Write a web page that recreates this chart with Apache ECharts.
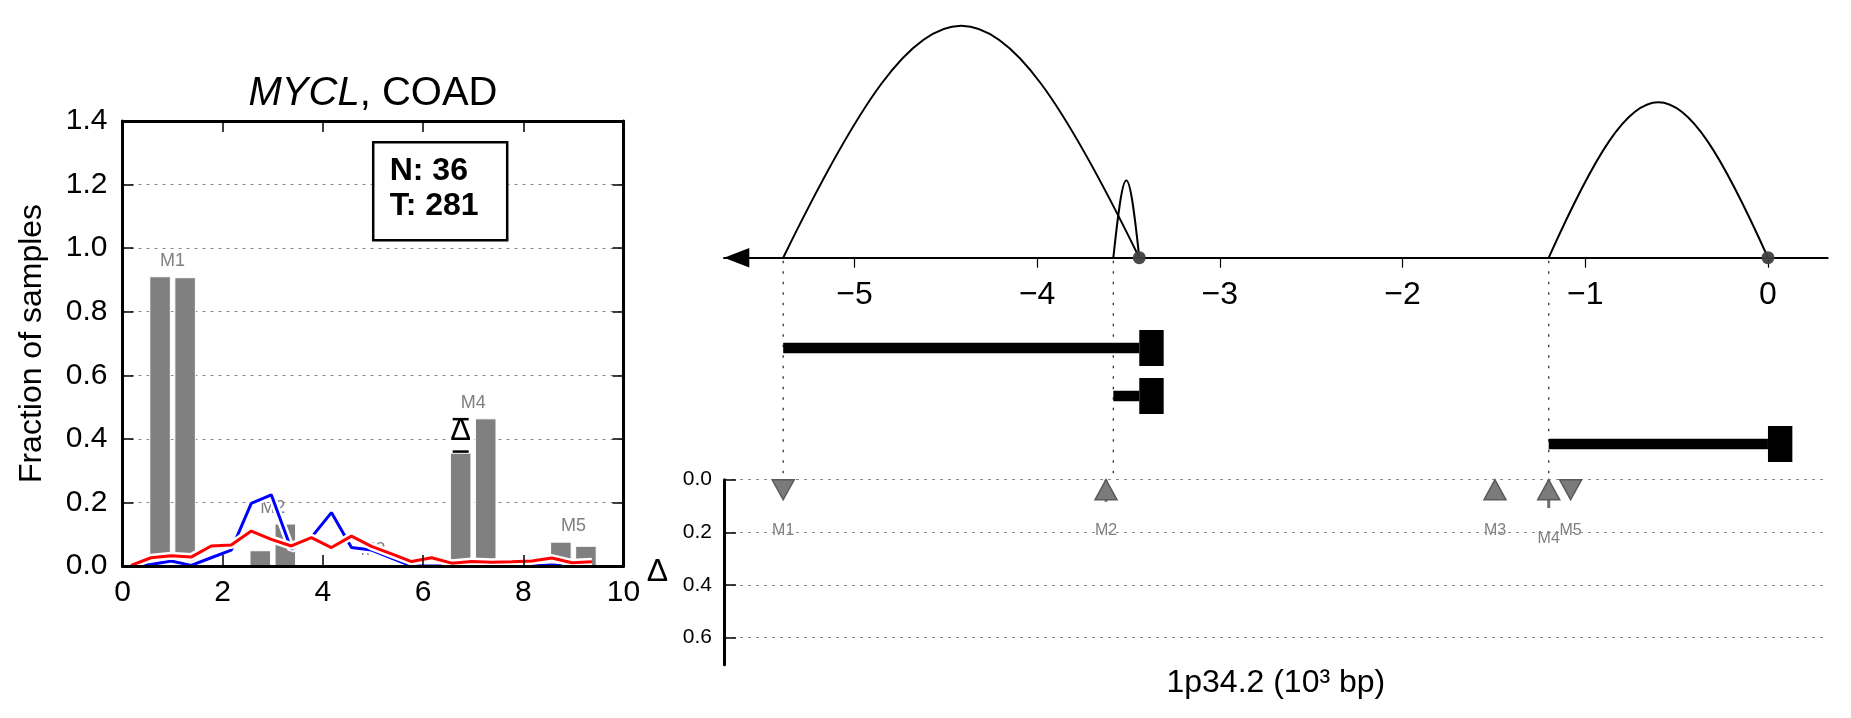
<!DOCTYPE html>
<html>
<head>
<meta charset="utf-8">
<script src="https://cdn.jsdelivr.net/npm/echarts@6/dist/echarts.min.js"></script>
<style>
html,body{margin:0;padding:0;background:#fff;}
#c{width:1851px;height:718px;}
</style>
</head>
<body>
<div id="c"></div>
<script>
// ================= DATA =================
// Left panel (MYCL, COAD)
const barX = [0.75, 1.25, 2.75, 3.25, 4.75, 5.25, 6.75, 7.25, 8.75, 9.25];
const barValues = [0.910, 0.907, 0.048, 0.132, 0.0, 0.0, 0.355, 0.463, 0.075, 0.062];
const motifNames = ['M1', 'M2', 'M3', 'M4', 'M5'];
const lineX = [0.17, 0.57, 0.97, 1.37, 1.77, 2.17, 2.57, 2.97, 3.37, 3.77, 4.17, 4.57,
               4.97, 5.37, 5.77, 6.17, 6.57, 6.97, 7.37, 7.77, 8.17, 8.57, 8.97, 9.37];
const blueValues = [0.000, 0.005, 0.016, 0.002, 0.026, 0.050, 0.197, 0.224, 0.053, 0.090, 0.168, 0.058,
                    0.050, 0.025, 0.000, 0.000, 0.000, 0.000, 0.000, 0.000, 0.000, 0.003, 0.000, 0.000];
const redValues = [0.002, 0.026, 0.032, 0.028, 0.063, 0.066, 0.110, 0.084, 0.063, 0.089, 0.058, 0.094,
                   0.062, 0.038, 0.014, 0.026, 0.009, 0.014, 0.012, 0.013, 0.016, 0.025, 0.010, 0.013];
const deltaMark = [6.75, 0.36, 0.462];           // x, low, high
const leftXTicks = [0, 2, 4, 6, 8, 10];
const leftYTicks = [0, 0.2, 0.4, 0.6, 0.8, 1.0, 1.2, 1.4];
const countN = 36;
const countT = 281;

// Right panel (1p34.2, 10^3 bp)
const axisTicks = [-5, -4, -3, -2, -1, 0];
const arcStart = [-5.39, -3.583, -1.2];
const arcEnd = [-3.441, -3.441, 0];
const arcHeight = [0.90, 0.30, 0.603];
const anchorPoints = [-3.441, 0];
const geneStart = [-5.39, -3.583, -1.2];
const geneEnd = [-3.441, -3.441, 0];
const geneTrack = [0, 1, 2];
const guideX = [-5.39, -3.583, -1.2];
const motifPos = [-5.39, -3.623, -1.494, -1.2, -1.08];
const deltaTicks = [0, 0.2, 0.4, 0.6];

// ================= STYLE / LAYOUT =================
const FONT = '"Liberation Sans", Arial, Helvetica, sans-serif';
const BAR_W = 0.41;
const labelNudge = { M4: 8 };
const L = { left: 122.5, top: 121, width: 501, height: 445 };
const R = { left: 724, width: 1103.7 };
const X_MIN = -5.714, X_MAX = 0.327;
const GRID_LINE = { color: '#8a8a8a', width: 1, type: [3, 5] };

// derived: per motif delta (second bar minus first)
const motifDelta = motifNames.map((n, i) => barValues[2 * i + 1] - barValues[2 * i]);

const chart = echarts.init(document.getElementById('c'), null, { renderer: 'canvas', width: 1851, height: 718 });

const minusFmt = v => (v < 0 ? '\u2212' + Math.abs(v) : String(v));

const option = {
  animation: false,
  backgroundColor: '#fff',
  textStyle: { fontFamily: FONT },
  title: [{
    text: 'N: ' + countN + '\nT: ' + countT,
    left: 372.7, top: 141.8,
    padding: [12, 29, 17, 17],
    backgroundColor: '#fff', borderColor: '#000', borderWidth: 2.5,
    textStyle: { fontSize: 32, fontWeight: 'bold', color: '#000', lineHeight: 35, fontFamily: FONT }
  }],
  grid: [
    { left: L.left, top: L.top, width: L.width, height: L.height, containLabel: false, outerBoundsMode: 'none' },
    { left: R.left, top: 0, width: R.width, height: 479.7, containLabel: false, outerBoundsMode: 'none' },
    { left: R.left, top: 324, width: R.width, height: 144, containLabel: false, outerBoundsMode: 'none' },
    { left: R.left, top: 479.7, width: R.width, height: 185, containLabel: false, outerBoundsMode: 'none' },
    { left: R.left, top: 0, width: R.width, height: 257.7, containLabel: false, outerBoundsMode: 'none' }
  ],
  xAxis: [
    { // 0 left bottom
      gridIndex: 0, type: 'value', min: leftXTicks[0], max: leftXTicks[leftXTicks.length - 1], interval: 2,
      position: 'bottom', z: 10,
      axisLine: { show: true, onZero: false, lineStyle: { color: '#000', width: 3 } },
      axisTick: { show: true, inside: true, length: 11, lineStyle: { color: '#000', width: 1.5 } },
      axisLabel: { show: true, color: '#000', fontSize: 30, margin: 12, fontFamily: FONT },
      splitLine: { show: false }
    },
    { // 1 left top (frame + title)
      gridIndex: 0, type: 'value', min: leftXTicks[0], max: leftXTicks[leftXTicks.length - 1], interval: 2,
      position: 'top', z: 10,
      axisLine: { show: true, onZero: false, lineStyle: { color: '#000', width: 3 } },
      axisTick: { show: true, inside: true, length: 11, lineStyle: { color: '#000', width: 1.5 } },
      axisLabel: { show: false }, splitLine: { show: false },
      name: '{i|MYCL}{n|, COAD}', nameLocation: 'middle', nameGap: 7, nameMoveOverlap: false,
      nameTextStyle: {
        rich: {
          i: { fontStyle: 'italic', fontSize: 40, color: '#000', fontFamily: FONT, lineHeight: 40 },
          n: { fontSize: 40, color: '#000', fontFamily: FONT, lineHeight: 40 }
        }
      }
    },
    { // 2 guides grid (hidden)
      gridIndex: 1, type: 'value', min: X_MIN, max: X_MAX, show: false
    },
    { // 3 genes
      gridIndex: 2, type: 'value', min: X_MIN, max: X_MAX, show: false
    },
    { // 4 delta panel
      gridIndex: 3, type: 'value', min: X_MIN, max: X_MAX, position: 'bottom', show: true,
      axisLine: { show: false, onZero: false }, axisTick: { show: false }, axisLabel: { show: false }, splitLine: { show: false },
      name: '1p34.2 (10\u00b3 bp)', nameLocation: 'middle', nameGap: 2, nameMoveOverlap: false,
      nameTextStyle: { fontSize: 32, color: '#000', fontFamily: FONT }
    },
    { // 5 right main axis
      gridIndex: 4, type: 'value', min: X_MIN, max: X_MAX, position: 'bottom',
      axisLine: { show: true, onZero: false, lineStyle: { color: '#000', width: 2 },
        symbol: ['triangle', 'none'], symbolSize: [19.4, 25.3], symbolOffset: [12.65, 0] },
      axisTick: { show: true, inside: false, length: 10, customValues: axisTicks, lineStyle: { color: '#000', width: 1.2 } },
      axisLabel: { show: true, customValues: axisTicks, color: '#000', fontSize: 32, margin: 21, fontFamily: FONT, formatter: minusFmt },
      splitLine: { show: false }
    }
  ],
  yAxis: [
    { // 0 left labels + grid
      gridIndex: 0, type: 'value', min: leftYTicks[0], max: leftYTicks[leftYTicks.length - 1], interval: 0.2,
      position: 'left', z: 0,
      axisLine: { show: false, onZero: false }, axisTick: { show: false },
      axisLabel: { show: true, color: '#000', fontSize: 30, margin: 15, fontFamily: FONT, formatter: v => v.toFixed(1) },
      splitLine: { show: true, lineStyle: GRID_LINE },
      name: 'Fraction of samples', nameLocation: 'middle', nameGap: 74, nameMoveOverlap: false,
      nameTextStyle: { fontSize: 32, color: '#000', fontFamily: FONT }
    },
    { // 1 left right frame
      gridIndex: 0, type: 'value', min: leftYTicks[0], max: leftYTicks[leftYTicks.length - 1], interval: 0.2,
      position: 'right', z: 10,
      axisLine: { show: true, onZero: false, lineStyle: { color: '#000', width: 3 } },
      axisTick: { show: true, inside: true, length: 11, lineStyle: { color: '#000', width: 1.5 } },
      axisLabel: { show: false }, splitLine: { show: false }
    },
    { // 2 guides (hidden), zero at main axis line
      gridIndex: 1, type: 'value', min: -0.8615, max: 1, show: false, axisLine: { onZero: false }
    },
    { // 3 gene tracks
      gridIndex: 2, type: 'category', data: geneTrack.map(String), inverse: true, show: false
    },
    { // 4 delta axis
      gridIndex: 3, type: 'value', min: 0, max: 0.704, inverse: true, position: 'left',
      axisLine: { show: true, onZero: false, lineStyle: { color: '#000', width: 3 } },
      axisTick: { show: true, inside: true, length: 12, customValues: deltaTicks, lineStyle: { color: '#000', width: 1.5 } },
      axisLabel: { show: true, customValues: deltaTicks, color: '#000', fontSize: 21, margin: 12, fontFamily: FONT, formatter: v => v.toFixed(1) },
      splitLine: { show: true, lineStyle: GRID_LINE },
      name: '\u0394', nameLocation: 'middle', nameRotate: 0, nameGap: 56, nameMoveOverlap: false,
      nameTextStyle: { fontSize: 32, color: '#000', fontFamily: FONT }
    },
    { // 5 left frame line (on top)
      gridIndex: 0, type: 'value', min: leftYTicks[0], max: leftYTicks[leftYTicks.length - 1], interval: 0.2,
      position: 'left', z: 10,
      axisLine: { show: true, onZero: false, lineStyle: { color: '#000', width: 3 } },
      axisTick: { show: true, inside: true, length: 11, lineStyle: { color: '#000', width: 1.5 } },
      axisLabel: { show: false }, splitLine: { show: false }
    },
    { // 6 right main (hidden)
      gridIndex: 4, type: 'value', min: 0, max: 1, show: false, axisLine: { onZero: false }
    }
  ],
  series: [
    { // left bars
      type: 'custom', xAxisIndex: 0, yAxisIndex: 0, z: 2, silent: true,
      data: barX.map((x, i) => [x, barValues[i]]),
      renderItem: (params, api) => {
        const x = api.value(0), v = api.value(1);
        const p0 = api.coord([x - BAR_W / 2, 0]);
        const p1 = api.coord([x + BAR_W / 2, v]);
        return { type: 'rect', shape: { x: p0[0], y: p1[1], width: p1[0] - p0[0], height: p0[1] - p1[1] },
          style: { fill: '#808080', stroke: '#ffffff', lineWidth: 1 } };
      }
    },
    { // left motif labels
      type: 'custom', xAxisIndex: 0, yAxisIndex: 0, z: 3, silent: true,
      data: motifNames.map((n, i) => [(barX[2 * i] + barX[2 * i + 1]) / 2, Math.max(barValues[2 * i], barValues[2 * i + 1])]),
      renderItem: (params, api) => {
        const p = api.coord([api.value(0), api.value(1)]);
        return { type: 'text', style: { text: motifNames[params.dataIndex], x: p[0], y: p[1] - 16,
          textAlign: 'center', textVerticalAlign: 'middle', font: '18px ' + FONT, fill: '#808080' } };
      }
    },
    { type: 'line', xAxisIndex: 0, yAxisIndex: 0, z: 4, silent: true, symbol: 'none',
      data: lineX.map((x, i) => [x, blueValues[i]]), lineStyle: { color: '#ffffff', width: 8 } },
    { type: 'line', xAxisIndex: 0, yAxisIndex: 0, z: 5, silent: true, symbol: 'none',
      data: lineX.map((x, i) => [x, blueValues[i]]), lineStyle: { color: '#0000ff', width: 3 } },
    { type: 'line', xAxisIndex: 0, yAxisIndex: 0, z: 6, silent: true, symbol: 'none',
      data: lineX.map((x, i) => [x, redValues[i]]), lineStyle: { color: '#ffffff', width: 8 } },
    { type: 'line', xAxisIndex: 0, yAxisIndex: 0, z: 7, silent: true, symbol: 'none',
      data: lineX.map((x, i) => [x, redValues[i]]), lineStyle: { color: '#ff0000', width: 3 } },
    { // delta marker on left panel
      type: 'custom', xAxisIndex: 0, yAxisIndex: 0, z: 8, silent: true,
      data: [deltaMark],
      renderItem: (params, api) => {
        const x = api.value(0), lo = api.value(1), hi = api.value(2);
        const pl = api.coord([x, lo]), ph = api.coord([x, hi]);
        const cw = 8, cy = (pl[1] + ph[1]) / 2 - 4;
        return { type: 'group', children: [
          { type: 'rect', shape: { x: pl[0] - 12, y: cy - 12, width: 24, height: 25 }, style: { fill: '#ffffff' } },
          { type: 'line', shape: { x1: pl[0] - cw, y1: pl[1], x2: pl[0] + cw, y2: pl[1] }, style: { stroke: '#000', lineWidth: 2.5 } },
          { type: 'line', shape: { x1: ph[0] - cw, y1: ph[1], x2: ph[0] + cw, y2: ph[1] }, style: { stroke: '#000', lineWidth: 2.5 } },
          { type: 'text', style: { text: '\u0394', x: pl[0], y: cy, textAlign: 'center', textVerticalAlign: 'middle',
            font: '31px ' + FONT, fill: '#000' } }
        ] };
      }
    },
    { // guide dotted lines
      type: 'custom', xAxisIndex: 2, yAxisIndex: 2, z: 1, silent: true,
      data: guideX.map(x => [x, 0]),
      renderItem: (params, api) => {
        const a = api.coord([api.value(0), 0]);
        const cs = params.coordSys;
        return { type: 'line', shape: { x1: a[0], y1: a[1] + 3, x2: a[0], y2: cs.y + cs.height },
          style: { stroke: '#333333', lineWidth: 1.3, lineDash: [2.5, 8] } };
      }
    },
    { // arcs
      type: 'custom', xAxisIndex: 5, yAxisIndex: 6, z: 3, silent: true,
      data: arcStart.map((s, i) => [s, arcEnd[i], arcHeight[i]]),
      renderItem: (params, api) => {
        const s = api.value(0), e = api.value(1), h = api.value(2);
        const a = api.coord([s, 0]), b = api.coord([e, 0]);
        const top = api.coord([(s + e) / 2, h]);
        const H = (a[1] - top[1]) * 4 / 3;
        const hw = (b[0] - a[0]) / 2, mx = (a[0] + b[0]) / 2;
        return { type: 'bezierCurve',
          shape: { x1: a[0], y1: a[1], x2: b[0], y2: b[1], cpx1: mx - 0.15 * hw, cpy1: a[1] - H, cpx2: mx + 0.15 * hw, cpy2: a[1] - H },
          style: { stroke: '#000', lineWidth: 2, fill: 'none' } };
      }
    },
    { // anchor dots
      type: 'scatter', xAxisIndex: 5, yAxisIndex: 6, z: 5, silent: true,
      data: anchorPoints.map(x => [x, 0]), symbol: 'circle', symbolSize: 13,
      itemStyle: { color: '#404040', opacity: 0.95 }
    },
    { // genes
      type: 'custom', xAxisIndex: 3, yAxisIndex: 3, z: 3, silent: true,
      data: geneStart.map((s, i) => [s, geneEnd[i], geneTrack[i]]),
      renderItem: (params, api) => {
        const s = api.value(0), e = api.value(1), t = api.value(2);
        const a = api.coord([s, t]), b = api.coord([e, t]);
        return { type: 'group', children: [
          { type: 'rect', shape: { x: a[0], y: a[1] - 5.25, width: b[0] - a[0], height: 10.5 }, style: { fill: '#000' } },
          { type: 'rect', shape: { x: b[0], y: b[1] - 18, width: 24.4, height: 36 }, style: { fill: '#000' } }
        ] };
      }
    },
    { // delta stems
      type: 'custom', xAxisIndex: 4, yAxisIndex: 4, z: 3, silent: true,
      data: motifPos.map((x, i) => [x, Math.abs(motifDelta[i])]),
      renderItem: (params, api) => {
        const x = api.value(0), d = api.value(1);
        const a = api.coord([x, 0]), b = api.coord([x, d]);
        return { type: 'line', shape: { x1: a[0], y1: a[1], x2: b[0], y2: b[1] }, style: { stroke: '#6e6e6e', lineWidth: 3 } };
      }
    },
    { // delta triangles
      type: 'scatter', xAxisIndex: 4, yAxisIndex: 4, z: 4, silent: true,
      data: motifPos.map((x, i) => ({ value: [x, 0], symbolRotate: motifDelta[i] < 0 ? 180 : 0 })),
      symbol: 'triangle', symbolSize: [22, 20], symbolOffset: [0, 10],
      itemStyle: { color: '#7b7b7b', borderColor: '#5a5a5a', borderWidth: 1.5, opacity: 1 }
    },
    { // delta motif labels
      type: 'custom', xAxisIndex: 4, yAxisIndex: 4, z: 5, silent: true,
      data: motifPos.map(x => [x, 0]),
      renderItem: (params, api) => {
        const p = api.coord([api.value(0), 0]);
        const name = motifNames[params.dataIndex];
        return { type: 'text', style: { text: name, x: p[0], y: p[1] + 50.5 + (labelNudge[name] || 0),
          textAlign: 'center', textVerticalAlign: 'middle', font: '16px ' + FONT, fill: '#808080' } };
      }
    }
  ]
};

chart.setOption(option);
</script>
</body>
</html>
